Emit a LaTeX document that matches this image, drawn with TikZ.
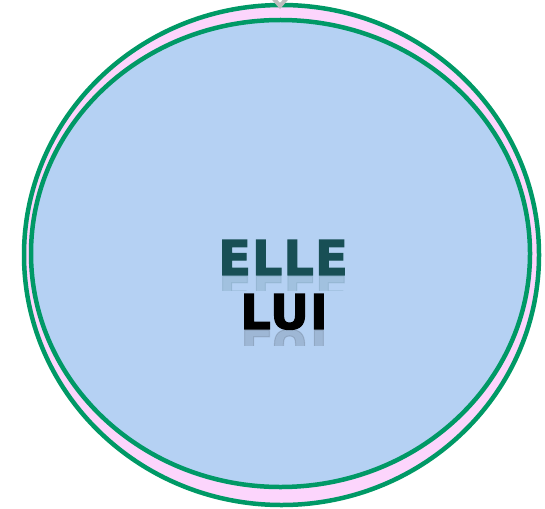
\documentclass[tikz,border=0pt]{standalone}
\usepackage{fontspec}
\newfontfamily\heavy{DejaVu Sans Bold}[FakeBold=2.2, LetterSpace=2]
\definecolor{ringgreen}{HTML}{009966}
\definecolor{pinkfill}{HTML}{FCD5FC}
\definecolor{bluefill}{HTML}{B5D1F3}
\definecolor{tealtext}{HTML}{184F55}
\definecolor{chev}{HTML}{BDBDBD}
\tikzset{
  ring/.style={draw=ringgreen, line width=4.5pt},
  bigword/.style={font=\heavy\fontsize{48}{48}\selectfont, inner sep=0pt, anchor=base},
}
\begin{document}
\begin{tikzpicture}[x=1pt,y=-1pt]
\useasboundingbox (0,0) rectangle (545,508);
\path[ring, fill=pinkfill] (281.5,255) ellipse [x radius=257.5, y radius=250];
\path[ring, fill=bluefill] (280.5,253.5) ellipse [x radius=249.5, y radius=233.5];
\draw[chev, line width=4pt] (273,-2) -- (280,6) -- (287,-2);
% reflections
\begin{scope}
\clip (200,276) rectangle (360,290);
\node[bigword, text=tealtext, opacity=0.12, yscale=-1] (ellerefl) at (283,276) {ELLE};
\end{scope}
\begin{scope}
\clip (200,330) rectangle (360,345);
\node[bigword, text=black, opacity=0.12, yscale=-1] (luirefl) at (284,330) {LUI};
\end{scope}
\node[bigword, text=tealtext] (elle) at (283,275) {ELLE};
\node[bigword, text=black] (lui) at (284,329) {LUI};
\end{tikzpicture}
\end{document}
